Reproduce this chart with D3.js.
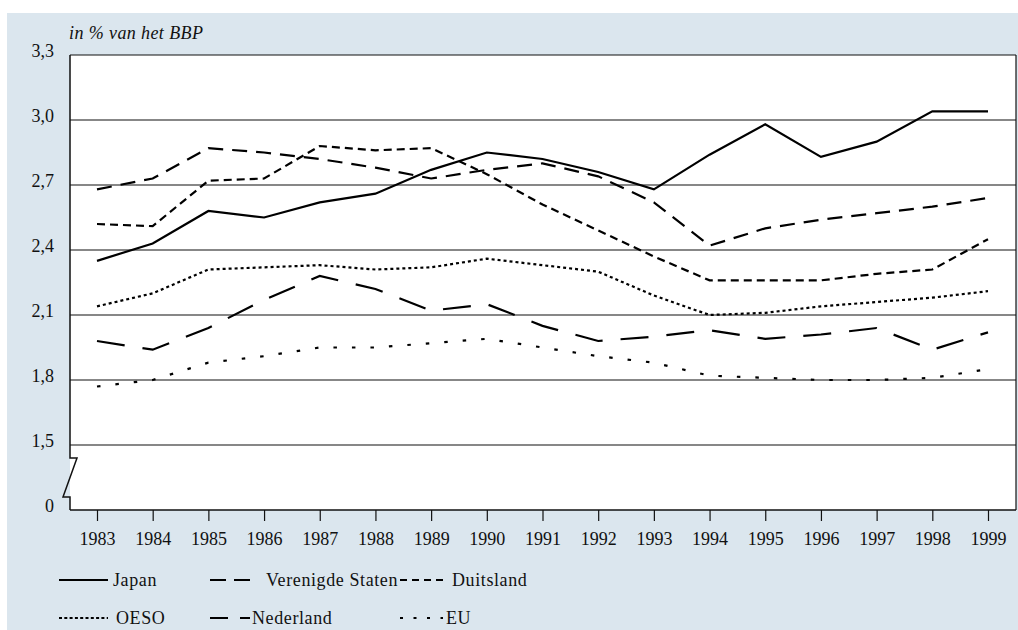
<!DOCTYPE html>
<html lang="nl">
<head>
<meta charset="utf-8"/>
<title>R&D-uitgaven in % van het BBP</title>
<script src="https://d3js.org/d3.v7.min.js"></script>
<style>
  body { margin: 0; background: #fff; }
  svg { display: block; }
  svg text { font-family: "Liberation Serif", "DejaVu Serif", serif; fill: #111; }
  .tick text { font-size: 18px; }
  .legend text { font-size: 18px; letter-spacing: 0.6px; }
</style>
</head>
<body>
<div id="chart"></div>
<script>
// data
var years = [1983, 1984, 1985, 1986, 1987, 1988, 1989, 1990, 1991, 1992, 1993, 1994, 1995, 1996, 1997, 1998, 1999];
var japan      = [2.35, 2.43, 2.58, 2.55, 2.62, 2.66, 2.77, 2.85, 2.82, 2.76, 2.68, 2.84, 2.98, 2.83, 2.90, 3.04, 3.04];
var vs         = [2.68, 2.73, 2.87, 2.85, 2.82, 2.78, 2.73, 2.77, 2.80, 2.74, 2.62, 2.42, 2.50, 2.54, 2.57, 2.60, 2.64];
var duitsland  = [2.52, 2.51, 2.72, 2.73, 2.88, 2.86, 2.87, 2.75, 2.61, 2.49, 2.37, 2.26, 2.26, 2.26, 2.29, 2.31, 2.45];
var oeso       = [2.14, 2.20, 2.31, 2.32, 2.33, 2.31, 2.32, 2.36, 2.33, 2.30, 2.19, 2.10, 2.11, 2.14, 2.16, 2.18, 2.21];
var nederland  = [1.98, 1.94, 2.04, 2.17, 2.28, 2.22, 2.12, 2.15, 2.05, 1.98, 2.00, 2.03, 1.99, 2.01, 2.04, 1.94, 2.02];
var eu         = [1.77, 1.80, 1.88, 1.91, 1.95, 1.95, 1.97, 1.99, 1.95, 1.91, 1.88, 1.82, 1.81, 1.80, 1.80, 1.81, 1.85];
var yTicks = [1.2, 1.5, 1.8, 2.1, 2.4, 2.7, 3.0, 3.3];   // 1.2 sits at the axis break and is labelled "0"
var yLabel = "in % van het BBP";

var series = [
  { name: "Japan",            values: japan,     dash: null },
  { name: "Verenigde Staten", values: vs,        dash: "15,9" },
  { name: "Duitsland",        values: duitsland, dash: "8,5" },
  { name: "OESO",             values: oeso,      dash: "3,3" },
  { name: "Nederland",        values: nederland, dash: "28,18" },
  { name: "EU",               values: eu,        dash: "3.5,15" }
];

var width = 1018, height = 630;
var m = { left: 70, top: 55, right: 2, bottom: 120 };

var svg = d3.select("#chart").append("svg")
  .attr("width", width)
  .attr("height", height);

// light blue panel
svg.append("rect")
  .attr("x", 7).attr("y", 13)
  .attr("width", width - 7).attr("height", height - 13)
  .attr("fill", "#dbe6ee");

var x = d3.scalePoint()
  .domain(years)
  .range([97, 988]);

var y = d3.scaleLinear()
  .domain([1.2, 3.3])
  .range([height - m.bottom, m.top]);

var x0 = m.left, x1 = width - m.right;

// white plot area
svg.append("rect")
  .attr("x", x0).attr("y", y(3.3))
  .attr("width", x1 - x0).attr("height", y(1.2) - y(3.3))
  .attr("fill", "#fff");

// gridlines
svg.append("g")
  .selectAll("line")
  .data(yTicks.filter(function(d) { return d > 1.2; }))
  .enter().append("line")
    .attr("x1", x0).attr("x2", x1)
    .attr("y1", function(d) { return y(d); })
    .attr("y2", function(d) { return y(d); })
    .attr("stroke", "#111")
    .attr("stroke-width", 1.2);

// right border
svg.append("line")
  .attr("x1", x1).attr("x2", x1)
  .attr("y1", y(3.3)).attr("y2", y(1.2))
  .attr("stroke", "#111").attr("stroke-width", 1.2);

// lines
var line = d3.line()
  .x(function(d, i) { return x(years[i]); })
  .y(function(d) { return y(d); });

svg.append("g")
  .selectAll("path")
  .data(series)
  .enter().append("path")
    .attr("d", function(d) { return line(d.values); })
    .attr("fill", "none")
    .attr("stroke", "#000")
    .attr("stroke-width", 2.2)
    .attr("stroke-dasharray", function(d) { return d.dash; });

// x axis
var xAxis = svg.append("g")
  .attr("transform", "translate(0," + y(1.2) + ")")
  .call(d3.axisBottom(x).tickSize(11).tickPadding(11));
xAxis.attr("font-family", null);
xAxis.select(".domain").remove();
xAxis.selectAll(".tick line").attr("stroke", "#111").attr("stroke-width", 1.2);
svg.append("line")
  .attr("x1", x0).attr("x2", x1)
  .attr("y1", y(1.2)).attr("y2", y(1.2))
  .attr("stroke", "#111").attr("stroke-width", 1.5);

// y axis labels
var yAxis = svg.append("g")
  .attr("transform", "translate(" + x0 + ",0)")
  .call(d3.axisLeft(y).tickValues(yTicks).tickSize(0).tickPadding(16)
    .tickFormat(function(d) { return d === 1.2 ? "0" : d3.format(".1f")(d).replace(".", ","); }));
yAxis.attr("font-family", null);
yAxis.select(".domain").remove();
yAxis.selectAll(".tick text").attr("dy", "0.1em");

// y axis line with break symbol
var yb = y(1.5) + 13;
svg.append("path")
  .attr("d", "M" + x0 + "," + y(3.3) + "V" + yb + "h7L" + (x0 - 7) + "," + (yb + 39) + "h7V" + y(1.2))
  .attr("fill", "none")
  .attr("stroke", "#111")
  .attr("stroke-width", 1.5);

svg.append("text")
  .attr("x", 69).attr("y", 39)
  .attr("font-style", "italic")
  .attr("font-size", 18)
  .attr("letter-spacing", 0.4)
  .text(yLabel);

// legend
var legPos = [[59, 580], [210, 580], [400, 580], [59, 618], [210, 618], [400, 618]];
var legLen = [49, 40, 43, 49, 40, 43];
var legText = [113, 266, 452, 116, 252, 446];
var legDash = [null, "16,8", "7,5", "3,2.3", "18,12", "3,10.5"];

var legend = svg.append("g").attr("class", "legend")
  .selectAll("g")
  .data(series)
  .enter().append("g");

legend.append("line")
  .attr("x1", function(d, i) { return legPos[i][0]; })
  .attr("x2", function(d, i) { return legPos[i][0] + legLen[i]; })
  .attr("y1", function(d, i) { return legPos[i][1]; })
  .attr("y2", function(d, i) { return legPos[i][1]; })
  .attr("stroke", "#000")
  .attr("stroke-width", 2.2)
  .attr("stroke-dasharray", function(d, i) { return legDash[i]; });

legend.append("text")
  .attr("x", function(d, i) { return legText[i]; })
  .attr("y", function(d, i) { return legPos[i][1] + 6; })
  .text(function(d) { return d.name; });
</script>
</body>
</html>
